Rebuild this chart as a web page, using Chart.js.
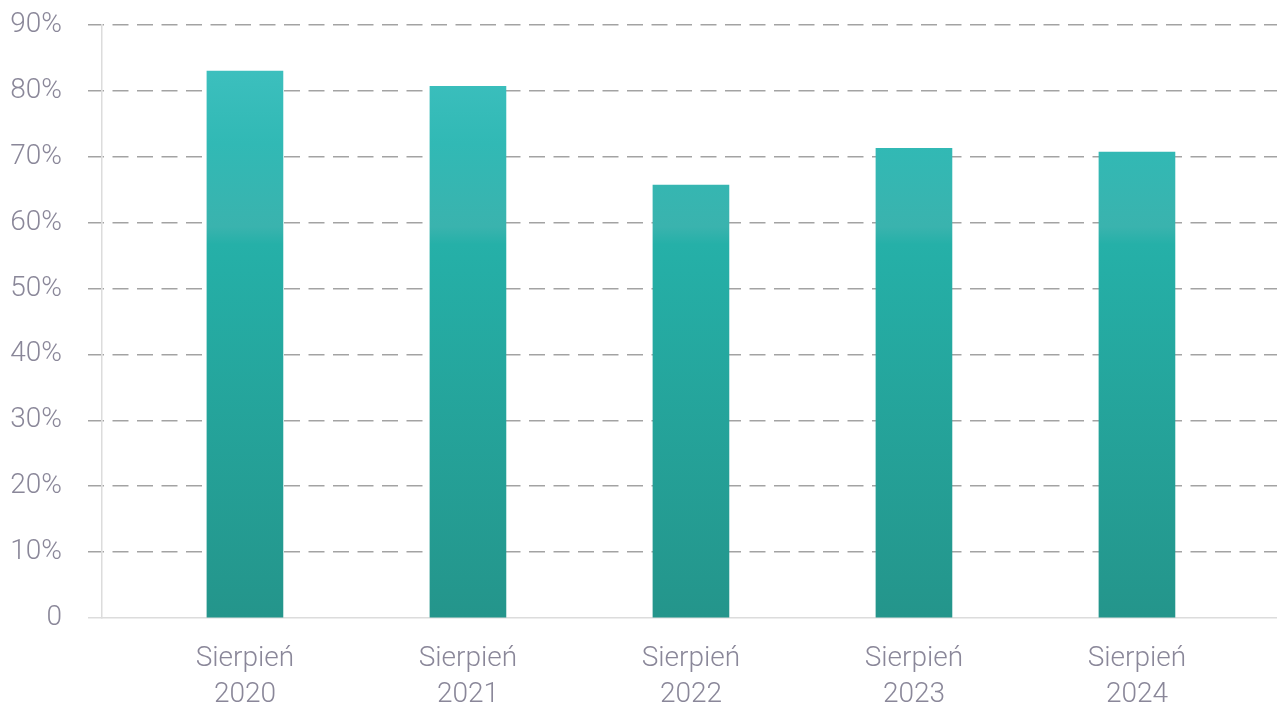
<!DOCTYPE html>
<html>
<head>
<meta charset="utf-8">
<script src="https://cdn.jsdelivr.net/npm/chart.js@4/dist/chart.umd.min.js"></script>
<style>
html,body{margin:0;padding:0;background:#fff;}
#wrap{width:1277px;height:705px;position:relative;}
</style>
</head>
<body>
<div id="wrap"><canvas id="c"></canvas></div>
<script>
const categoryMonth = ['Sierpień','Sierpień','Sierpień','Sierpień','Sierpień'];
const categoryYear = ['2020','2021','2022','2023','2024'];
const values = [83.0, 80.7, 65.7, 71.3, 70.7];
const yTicks = [0,10,20,30,40,50,60,70,80,90];

const fontFamily = 'Roboto, "Noto Sans", sans-serif';
const textColor = '#8a8799';

function barGradient(ctx){
  const chart = ctx.chart;
  const a = chart.chartArea;
  if(!a) return '#2ab2aa';
  const g = chart.ctx.createLinearGradient(0, a.top, 0, a.bottom);
  g.addColorStop(0, '#43c3c3');
  g.addColorStop(0.2, '#31b9b5');
  g.addColorStop(0.34, '#3ab3ae');
  g.addColorStop(0.37, '#25b0a8');
  g.addColorStop(1, '#24958b');
  return g;
}

new Chart(document.getElementById('c'), {
  type: 'bar',
  data: {
    datasets: [{
      data: values.map((v,i)=>({x:i, y:v})),
      backgroundColor: barGradient,
      borderWidth: 0,
      barThickness: 76
    }]
  },
  options: {
    responsive: true,
    maintainAspectRatio: false,
    animation: false,
    layout: { padding: { top: 25, right: 0, left: 0, bottom: 0 } },
    plugins: { legend: { display: false }, tooltip: { enabled: false } },
    scales: {
      x: {
        type: 'linear',
        offset: false,
        min: -0.641,
        max: 4.628,
        afterBuildTicks: (s) => { s.ticks = categoryYear.map((_,i)=>({value:i})); },
        afterFit: (s) => { s.height = 87; s.paddingTop = 0; s.paddingLeft = 0; s.paddingRight = 0; s.paddingBottom = 0; },
        grid: { display: false, drawTicks: false, offset: false },
        border: { display: true, color: '#dcdcdc', width: 1.5 },
        ticks: {
          autoSkip: false,
          maxRotation: 0,
          padding: 23,
          color: textColor,
          font: { family: fontFamily, size: 28, weight: 300, lineHeight: 1.286 },
          callback: (v) => { const i = Math.round(v); return [categoryMonth[i], categoryYear[i]]; }
        }
      },
      y: {
        min: 0,
        max: 90,
        afterBuildTicks: (s) => { s.ticks = yTicks.map(v=>({value:v})); },
        afterFit: (s) => { s.width = 102; s.paddingTop = 0; s.paddingBottom = 0; },
        grid: {
          color: (c) => (c.tick && c.tick.value === 0) ? 'rgba(0,0,0,0)' : '#a3a3a3',
          lineWidth: 1.5,
          tickLength: 14,
          tickColor: (c) => (c.tick && c.tick.value === 0) ? '#dcdcdc' : '#a3a3a3',
          tickWidth: 1.5,
          tickBorderDash: []
        },
        border: { display: true, color: '#dcdcdc', width: 1.5, dash: [16, 8.5], dashOffset: 14.5 },
        ticks: {
          padding: 26,
          color: textColor,
          font: { family: fontFamily, size: 28, weight: 300 },
          callback: (v) => v === 0 ? '0' : v + '%'
        }
      }
    }
  }
});
</script>
</body>
</html>
